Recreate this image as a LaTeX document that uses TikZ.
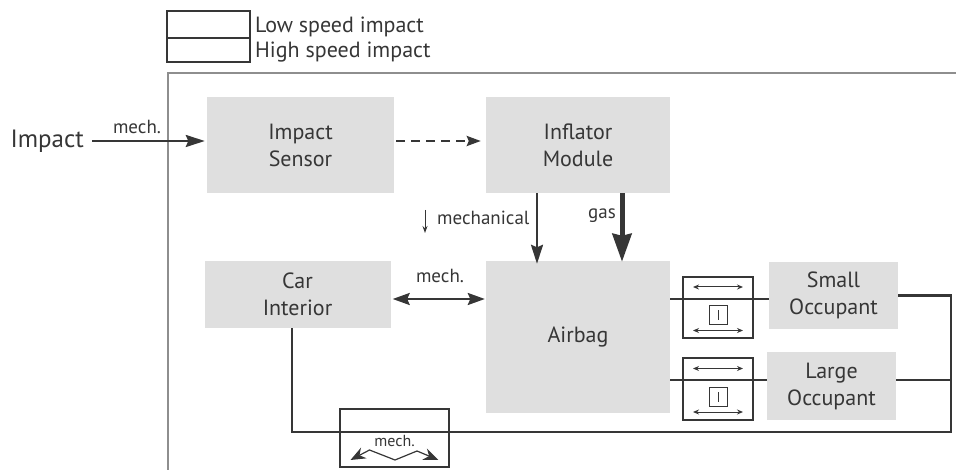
\documentclass[tikz,border=0pt]{standalone}
\usepackage{fontspec}
\setmainfont{PT Sans}
\usetikzlibrary{arrows.meta,calc}
\definecolor{ink}{HTML}{363636}
\definecolor{boxfill}{HTML}{DFDFDF}
\definecolor{framegray}{HTML}{8E8E8E}

\begin{document}
\begin{tikzpicture}[x=1pt,y=-1pt,
  block/.style={fill=boxfill, text=ink, align=center, inner sep=0pt,
    font=\fontsize{22}{27}\selectfont},
  outline/.style={draw=ink, line width=2.4pt, inner sep=0pt},
  lbl/.style={text=ink, inner sep=0pt, font=\fontsize{19}{21}\selectfont},
  wire/.style={draw=ink, line width=2.4pt},
  flow/.style={wire, -{Stealth[length=19pt,width=12pt,inset=2.5pt]}},
  twoway/.style={wire, {Stealth[length=17pt,width=12pt,inset=2.5pt]}-{Stealth[length=17pt,width=12pt,inset=2.5pt]}},
  fine/.style={draw=ink, line width=1pt},
  finetwo/.style={fine, {Stealth[length=6pt,width=5pt]}-{Stealth[length=6pt,width=5pt]}},
  switchin/.pic={
    \draw[finetwo] (-25,-20.5) -- (25,-20.5);
    \draw[fine] (-9,-1.5) rectangle (9,17.5);
    \draw[fine] (0,3) -- (0,13);
    \draw[finetwo] (-25,23) -- (25,23);
  }
]
\useasboundingbox (0,0) rectangle (956,470);

% legend
\node[outline, minimum width=83pt, minimum height=27pt] (low) at (208.5,24.5) {};
\node[outline, minimum width=83pt, minimum height=24pt] (high) at (208.5,50) {};
\node[text=ink, anchor=base west, inner sep=0pt, font=\fontsize{22}{24}\selectfont] (lowtxt) at (255,33) {Low speed impact};
\node[text=ink, anchor=base west, inner sep=0pt, font=\fontsize{22}{24}\selectfont] (hightxt) at (255,58) {High speed impact};

% system boundary
\draw[framegray, line width=2pt] (956,73) -| (168,470);

% blocks
\node[block, minimum width=187pt, minimum height=96pt] (sensor) at (300.5,145) {Impact\\Sensor};
\node[block, minimum width=184pt, minimum height=96pt] (inflator) at (578,145) {Inflator\\Module};
\node[block, minimum width=186pt, minimum height=67pt] (car) at (297.5,294.5) {Car\\Interior};
\node[block, minimum width=184pt, minimum height=152pt] (airbag) at (578,337) {Airbag};
\node[block, minimum width=129pt, minimum height=67pt] (small) at (833.5,295.5) {Small\\Occupant};
\node[block, minimum width=129pt, minimum height=68pt] (large) at (831.5,386) {Large\\Occupant};

% input
\node[text=ink, anchor=east, inner sep=0pt, font=\fontsize{25}{27}\selectfont] (impact) at (84,141) {Impact};
\node[lbl] (mechin) at (137,127) {mech.};

% wiring levels
\coordinate (lvlA) at (0,299);
\coordinate (lvlB) at (0,380);
\coordinate (corner) at (951,432);

% flows between blocks
\draw[flow] ([xshift=8pt]impact.east) -- ([xshift=-2pt]sensor.west |- impact.east);
\draw[wire, dash pattern=on 9pt off 6pt, -{Stealth[length=14pt,width=10pt,inset=2pt]}]
  ([xshift=2pt]sensor.east |- impact.east) -- ([xshift=-5pt]inflator.west |- impact.east);
\draw[flow] ([xshift=-41pt]inflator.south) -- ([xshift=-41pt,yshift=-3pt]airbag.north);
\draw[draw=ink, line width=5pt, -{Stealth[length=28pt,width=19pt,inset=2pt]}]
  ([xshift=44pt]inflator.south) -- ([xshift=44pt,yshift=-1pt]airbag.north);
\node[lbl, anchor=west] (mechtxt) at (437,218) {mechanical};
\draw[fine, -{Stealth[length=7pt,width=5pt]}] ([xshift=-12pt,yshift=8pt]mechtxt.west) -- ++(0,23);
\node[lbl, anchor=east] (gastxt) at (616,216) {gas};
\draw[twoway] ([xshift=2pt]car.east |- lvlA) -- ([xshift=-1pt]airbag.west |- lvlA);
\node[lbl] (mechca) at (440,276) {mech.};

% occupant couplings
\node[outline, minimum width=70pt, minimum height=61pt] (sw1) at (718,307.5) {};
\node[outline, minimum width=70pt, minimum height=62pt] (sw2) at (718,389) {};
\pic at (sw1) {switchin};
\pic at (sw2) {switchin};
\draw[wire] (airbag.east |- lvlA) -- (small.west |- lvlA);
\draw[wire] (airbag.east |- lvlB) -- (large.west |- lvlB);
\draw[wire] (large.east |- lvlB) -- (corner |- lvlB);
\draw[wire] ([xshift=-5.5pt]car.south) |- (corner) |- (small.east);

% interior coupling
\node[outline, minimum width=109pt, minimum height=58pt] (mechbox) at (394.5,438) {};
\node[lbl, font=\fontsize{16}{18}\selectfont] (mechbl) at ($(mechbox)+(0,3)$) {mech.};
\draw[fine, line width=1.2pt, {Stealth[length=15pt,width=12pt]}-{Stealth[length=15pt,width=12pt]}]
  ($(mechbox)+(-44,22)$) -- ($(mechbox)+(-25,12)$) -- ($(mechbox)+(0.5,22)$)
  -- ($(mechbox)+(22.5,13)$) -- ($(mechbox)+(44,22)$);
\end{tikzpicture}
\end{document}
